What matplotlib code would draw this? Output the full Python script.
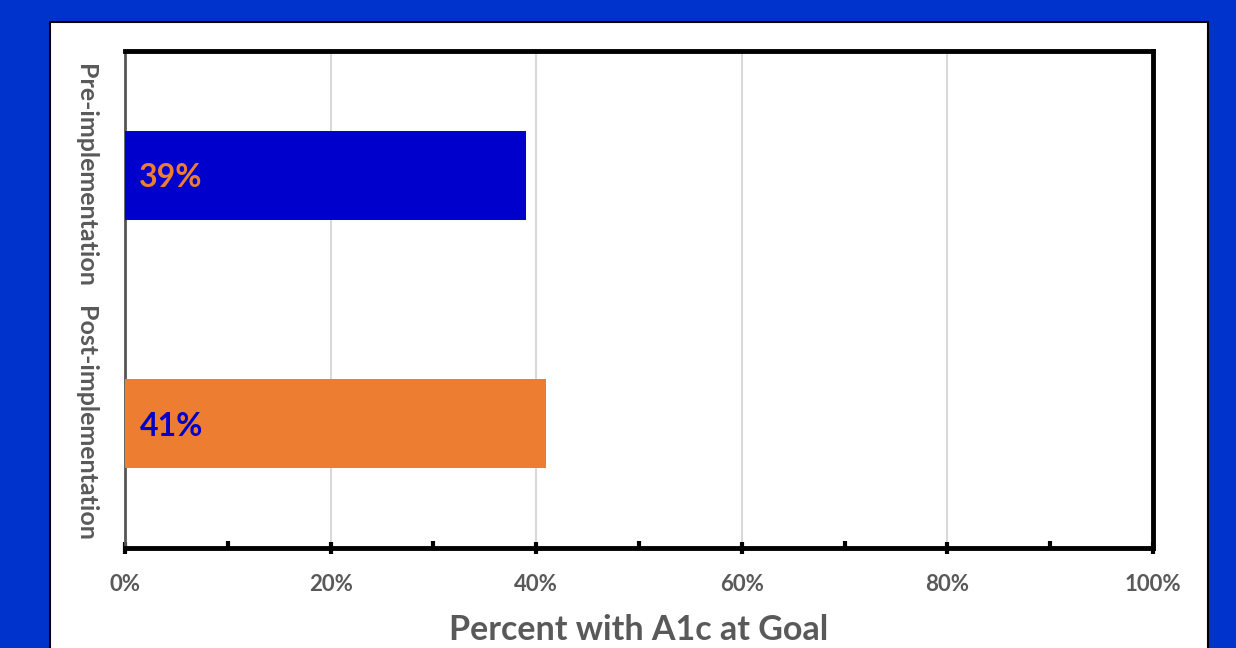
import matplotlib.pyplot as plt
from matplotlib.patches import Rectangle
from matplotlib.ticker import MultipleLocator, PercentFormatter

# A1c at goal, before and after the change
groups = ["Post-implementation", "Pre-implementation"]
pct_at_goal = [41, 39]
bar_colors = ["#ED7D31", "#0000CC"]
label_colors = ["#0000CC", "#ED7D31"]

plt.rcParams['font.family'] = ['Lato', 'DejaVu Sans']
gray = "#595959"

fig = plt.figure(figsize=(12.36, 6.48), dpi=100)
fig.patch.set_facecolor("#0033CC")

# white card behind the chart
card = Rectangle((50 / 1236, -0.01), 1158 / 1236, 1 - 22 / 648 + 0.01,
                 transform=fig.transFigure, facecolor="white",
                 edgecolor="black", linewidth=1.5, zorder=-10)
fig.patches.append(card)

ax = fig.add_axes([125 / 1236, 1 - 548 / 648, 1028 / 1236, 497 / 648])
ax.set_facecolor("white")

ypos = [0.5, 1.5]
ax.barh(ypos, pct_at_goal, height=0.36, color=bar_colors, zorder=3)
for y, v, c in zip(ypos, pct_at_goal, label_colors):
    ax.text(1.4, y - 0.01, f"{v}%", color=c, fontsize=23, fontweight="bold",
            va="center", ha="left", zorder=4)

ax.set_xlim(0, 100)
ax.set_ylim(0, 2)
ax.set_yticks([])
ax.xaxis.set_major_locator(MultipleLocator(20))
ax.xaxis.set_minor_locator(MultipleLocator(10))
ax.xaxis.set_major_formatter(PercentFormatter(decimals=0))
ax.tick_params(axis="x", which="major", direction="inout", length=9, width=3,
               color="black", labelsize=16, labelcolor=gray, pad=14)
ax.tick_params(axis="x", which="minor", direction="in", length=5, width=3,
               color="black")
for lab in ax.get_xticklabels():
    lab.set_fontweight("bold")

ax.grid(axis="x", which="major", color="#D9D9D9", linewidth=1.5, zorder=0)

for side in ["top", "right", "bottom"]:
    ax.spines[side].set_linewidth(3.5)
    ax.spines[side].set_color("black")
ax.spines["left"].set_linewidth(2)
ax.spines["left"].set_color("#555555")

ax.set_xlabel("Percent with A1c at Goal", fontsize=24.5, fontweight="bold",
              color=gray, labelpad=14)

# category names, rotated to read top to bottom
for y, name in zip(ypos, groups):
    ax.text(-3.8, y, name, rotation=-90, fontsize=18, fontweight="bold",
            color=gray, ha="center", va="center", transform=ax.transData,
            clip_on=False)

fig.savefig("out.png", dpi=100, facecolor=fig.get_facecolor())
